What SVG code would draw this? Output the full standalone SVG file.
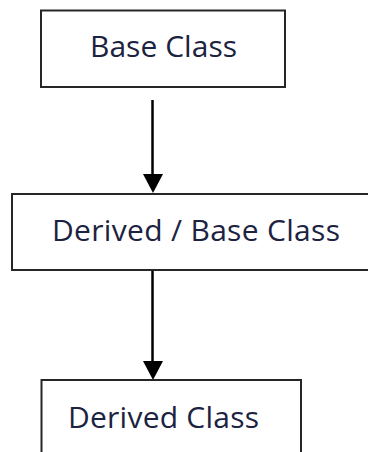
<svg xmlns="http://www.w3.org/2000/svg" width="368" height="452" viewBox="0 0 368 452">
<style>
.box{fill:#fff;stroke:#262626;stroke-width:2}
.lbl{font-family:"Open Sans","Noto Sans",sans-serif;font-size:30px;fill:#1c2340}
.conn{stroke:#000;stroke-width:2.5;fill:none}
.head{fill:#000}
</style>
<rect width="368" height="452" fill="#fff"/>
<g id="connectors">
<line class="conn" x1="152.5" y1="100" x2="152.5" y2="180"/>
<path class="head" d="M143,174 L163,174 L153,193 Z"/>
<line class="conn" x1="152.5" y1="270" x2="152.5" y2="365"/>
<path class="head" d="M143,361 L163,361 L153,380 Z"/>
</g>
<g id="base">
<rect class="box" x="41" y="10.5" width="244" height="76.5"/>
<text class="lbl" x="90" y="57" textLength="147">Base Class</text>
</g>
<g id="derivedbase">
<rect class="box" x="12" y="194" width="370" height="76"/>
<text class="lbl" x="52" y="241" textLength="288">Derived / Base Class</text>
</g>
<g id="derived">
<rect class="box" x="41.5" y="380" width="259.5" height="90"/>
<text class="lbl" x="68" y="428" textLength="191">Derived Class</text>
</g>
</svg>
